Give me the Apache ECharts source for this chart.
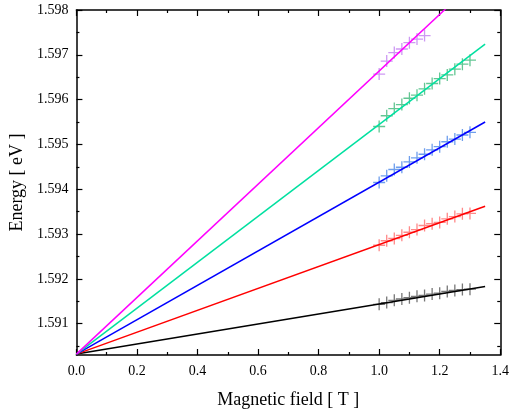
<!DOCTYPE html>
<html lang="en">
<head>
    <meta charset="UTF-8">
    <title>Energy vs Magnetic field</title>
    <script src="https://cdn.jsdelivr.net/npm/echarts@6/dist/echarts.min.js"></script>
    <style>
        html, body { margin: 0; padding: 0; background: #fff; }
        #chart { width: 512px; height: 414px; }
    </style>
</head>
<body>
    <div id="chart"></div>
<script>
    // field values of the measured points
    var fieldPts = [1.0, 1.025, 1.05, 1.075, 1.1, 1.125, 1.15, 1.175, 1.2, 1.225, 1.25, 1.275, 1.3];
    var magentaPts = [1.59657, 1.59686, 1.59705, 1.59713, 1.59727, 1.59735, 1.59743];
    var greenPts = [1.5954, 1.59564, 1.5958, 1.59589, 1.59603, 1.5961, 1.59624, 1.59636, 1.59647, 1.59655, 1.59668, 1.59679, 1.59688];
    var bluePts = [1.59415, 1.5943, 1.59444, 1.59449, 1.59461, 1.5947, 1.59478, 1.59488, 1.59495, 1.59506, 1.59512, 1.59521, 1.59527];
    var redPts = [1.59275, 1.59285, 1.5929, 1.59297, 1.59304, 1.5931, 1.59319, 1.59323, 1.59326, 1.59334, 1.59339, 1.59345, 1.59346];
    var blackPts = [1.59143, 1.59147, 1.59152, 1.59155, 1.59158, 1.59161, 1.59163, 1.59166, 1.59168, 1.59172, 1.59174, 1.59176, 1.59177];

    // fitted lines: energy at B = 0 and at B = 1.35 T
    var fitX = [0, 1.35];
    var magentaFit = [1.59032, 1.59885];
    var greenFit = [1.59032, 1.59724];
    var blueFit = [1.59032, 1.5955];
    var redFit = [1.59032, 1.59362];
    var blackFit = [1.59032, 1.59183];

    var yMajor = [1.591, 1.592, 1.593, 1.594, 1.595, 1.596, 1.597, 1.598];
    var yMinor = [1.5905, 1.5915, 1.5925, 1.5935, 1.5945, 1.5955, 1.5965, 1.5975];

    var font = '"Liberation Serif", "Times New Roman", serif';
    var plus = 'path://M0,6L12,6M6,0L6,12';

    function pairs(xs, ys) {
        return ys.map(function (y, i) { return [xs[i], y]; });
    }

    function fitLine(ys, color) {
        return {
            type: 'line',
            data: pairs(fitX, ys),
            showSymbol: false,
            clip: true,
            z: 3,
            lineStyle: { color: color, width: 1.5 },
            silent: true
        };
    }

    function crosses(ys, color) {
        return {
            type: 'scatter',
            data: pairs(fieldPts, ys),
            symbol: plus,
            symbolSize: 12,
            clip: true,
            z: 2,
            itemStyle: { color: 'rgba(0,0,0,0)', borderColor: color, borderWidth: 1.3 },
            silent: true
        };
    }

    var yBase = { type: 'value', min: 1.5903, max: 1.598, splitLine: { show: false } };

    function yAx(pos, ticks, len, labels, line) {
        return Object.assign({}, yBase, {
            position: pos,
            axisLine: { show: line, onZero: false, lineStyle: { color: '#000', width: 1.5 } },
            axisTick: { show: true, inside: true, length: len, customValues: ticks, lineStyle: { color: '#000', width: 1.2 } },
            axisLabel: labels ? {
                show: true, customValues: yMajor, color: '#000', fontFamily: font, fontSize: 14, margin: 8,
                formatter: function (v) { return v.toFixed(3); }
            } : { show: false },
            name: labels ? 'Energy [ eV ]' : '',
            nameLocation: 'middle',
            nameGap: 44,
            nameTextStyle: { color: '#000', fontFamily: font, fontSize: 18 }
        });
    }

    function xAx(pos, labels) {
        return {
            type: 'value', position: pos, min: 0, max: 1.4, interval: 0.2,
            splitLine: { show: false },
            axisLine: { show: true, onZero: false, lineStyle: { color: '#000', width: 1.5 } },
            axisTick: { show: true, inside: true, length: 6, lineStyle: { color: '#000', width: 1.2 } },
            minorTick: { show: true, splitNumber: 2, length: 3, lineStyle: { color: '#000', width: 1.2 } },
            axisLabel: labels ? {
                show: true, color: '#000', fontFamily: font, fontSize: 14, margin: 9,
                formatter: function (v) { return v.toFixed(1); }
            } : { show: false },
            name: labels ? 'Magnetic field [ T ]' : '',
            nameLocation: 'middle',
            nameGap: 36,
            nameTextStyle: { color: '#000', fontFamily: font, fontSize: 18 }
        };
    }

    var chart = echarts.init(document.getElementById('chart'), null, { renderer: 'canvas' });
    chart.setOption({
        animation: false,
        backgroundColor: '#fff',
        grid: { left: 71, right: 9, top: 10, bottom: 55, containLabel: false },
        xAxis: [xAx('bottom', true), xAx('top', false)],
        yAxis: [
            yAx('left', yMajor, 6, true, true),
            yAx('left', yMinor, 3, false, false),
            yAx('right', yMajor, 6, false, true),
            yAx('right', yMinor, 3, false, false)
        ],
        series: [
            crosses(blackPts, '#555555'),
            crosses(redPts, '#ff6b6b'),
            crosses(bluePts, '#4a86e8'),
            crosses(greenPts, '#3cb878'),
            crosses(magentaPts, '#c080f0'),
            fitLine(blackFit, '#000000'),
            fitLine(redFit, '#ff0000'),
            fitLine(blueFit, '#0000ff'),
            fitLine(greenFit, '#00e0a0'),
            fitLine(magentaFit, '#ff00ff')
        ]
    });
</script>
</body>
</html>
